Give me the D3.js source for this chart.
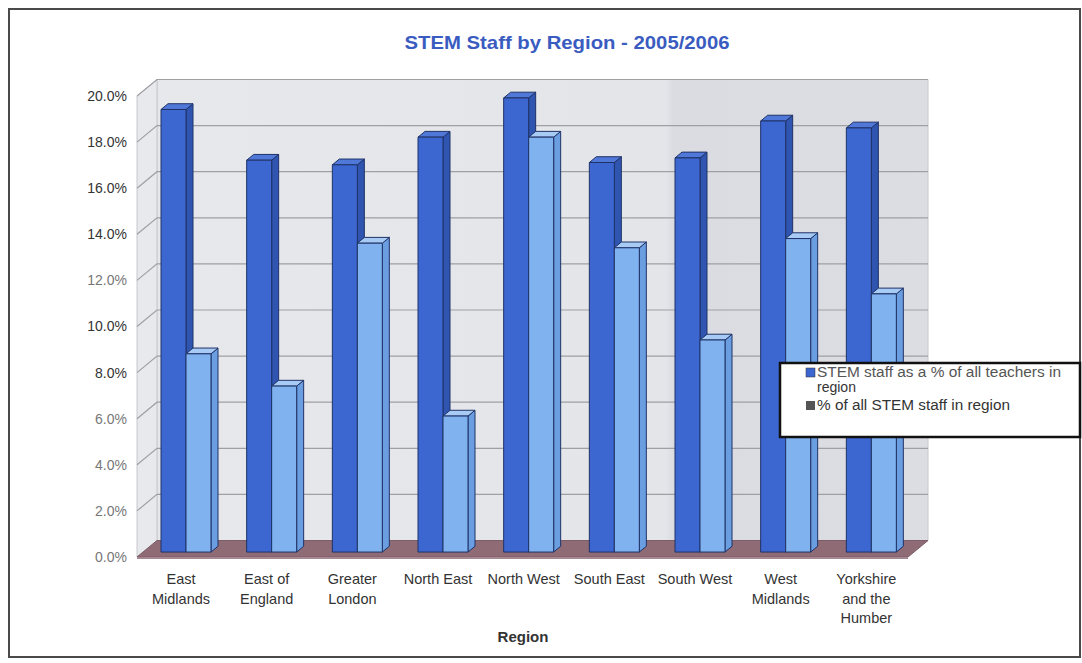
<!DOCTYPE html>
<html><head><meta charset="utf-8">
<script src="https://cdn.jsdelivr.net/npm/d3@7"></script>
<style>body{margin:0;background:#fff}svg{display:block}</style>
</head><body>
<svg id="c" width="1082" height="663"></svg>
<script>
const categories = ["East Midlands","East of England","Greater London","North East","North West","South East","South West","West Midlands","Yorkshire and the Humber"];
const labelLines = [["East","Midlands"],["East of","England"],["Greater","London"],["North East"],["North West"],["South East"],["South West"],["West","Midlands"],["Yorkshire","and the","Humber"]];
const seriesNames = ["STEM staff as a % of all teachers in region","% of all STEM staff in region"];
const pctOfTeachers = [19.2, 17.0, 16.8, 18.0, 19.7, 16.9, 17.1, 18.7, 18.4];
const pctOfStemStaff = [8.6, 7.2, 13.4, 5.9, 18.0, 13.2, 9.2, 13.6, 11.2];
const yTicks = [0,2,4,6,8,10,12,14,16,18,20];
const title = "STEM Staff by Region - 2005/2006";
const xTitle = "Region";

const svg = d3.select("#c");
const font = "Arial, 'Liberation Sans', sans-serif";

svg.append("rect").attr("x",9).attr("y",9).attr("width",1071).attr("height",648)
  .attr("fill","#fff").attr("stroke","#4a4a4a").attr("stroke-width",2);

svg.append("text").attr("x",567).attr("y",49).attr("text-anchor","middle")
  .attr("font-family",font).attr("font-weight","bold").attr("font-size",19)
  .attr("textLength",325).attr("lengthAdjust","spacingAndGlyphs")
  .attr("fill","#3a5cc0").text(title);

const y = d3.scaleLinear().domain([0,20]).range([557,96]);
const x = d3.scaleBand().domain(categories).range([137,908]).padding(0);
const xs = d3.scaleBand().domain(seriesNames).range([18,68]).padding(0);
const DX = 20, DY = 16.5;
const P = (px, v, z) => [px + DX*z, y(v) - DY*z];

const defs = svg.append("defs");
const g = defs.append("linearGradient").attr("id","wall").attr("x1","0").attr("x2","1");
g.append("stop").attr("offset","0").attr("stop-color","#e6e8ec");
g.append("stop").attr("offset","0.66").attr("stop-color","#e3e5e9");
g.append("stop").attr("offset","0.67").attr("stop-color","#dbdce1");
g.append("stop").attr("offset","1").attr("stop-color","#dcdde2");

const x0 = 137, x1 = 908;
const line = d3.line();
const bw = [P(x0,0,1),P(x1,0,1),P(x1,20,1),P(x0,20,1)];
svg.append("path").attr("d",line(bw)+"Z").attr("fill","url(#wall)").attr("stroke","#c8c8cc").attr("stroke-width",1);
const sw = [P(x0,0,0),P(x0,0,1),P(x0,20,1),P(x0,20,0)];
svg.append("path").attr("d",line(sw)+"Z").attr("fill","#e8e9ec").attr("stroke","#c8c8cc").attr("stroke-width",1);

yTicks.forEach(t=>{
  if(t===0) return;
  svg.append("path").attr("d",line([P(x0,t,0),P(x0,t,1),P(x1,t,1)]))
    .attr("fill","none").attr("stroke","#a0a0a4").attr("stroke-width",1.2);
});

const fl = [P(x0,0,0),P(x1,0,0),P(x1,0,1),P(x0,0,1)];
svg.append("path").attr("d",line(fl)+"Z").attr("fill","#8f6b76").attr("stroke","#7d5d68").attr("stroke-width",1);
svg.append("path").attr("d",line([P(x0,0,0),P(x1,0,0),[x1,y(0)+2],[x0,y(0)+2]])+"Z").attr("fill","#a58891");

const yAxis = d3.axisLeft(y).tickValues(yTicks).tickSize(0).tickPadding(0)
  .tickFormat(d=>d.toFixed(1)+"%");
const ya = svg.append("g").attr("transform","translate(127,0)").call(yAxis);
ya.select(".domain").remove();
ya.selectAll("text").attr("font-family",font).attr("font-size",14)
  .attr("fill",(d)=> d>=14||d===10||d===8?"#333":"#777");

const colors = [
  {front:"#3d67d0", side:"#2f55b0", top:"#5078d8"},
  {front:"#7fb2ef", side:"#6a9ee0", top:"#a7cbf5"}
];
const series = [pctOfTeachers, pctOfStemStaff];
const zf = 0.3, zb = 0.65;
categories.forEach((c,i)=>{
  seriesNames.forEach((s,k)=>{
    const v = series[k][i];
    const bx = x(c) + xs(s), w = xs.bandwidth();
    const col = colors[k];
    const gg = svg.append("g").attr("stroke","#1f3266").attr("stroke-width",1).attr("stroke-linejoin","round");
    gg.append("path").attr("d",line([P(bx+w,0,zf),P(bx+w,0,zb),P(bx+w,v,zb),P(bx+w,v,zf)])+"Z").attr("fill",col.side);
    gg.append("path").attr("d",line([P(bx,v,zf),P(bx+w,v,zf),P(bx+w,v,zb),P(bx,v,zb)])+"Z").attr("fill",col.top);
    gg.append("path").attr("d",line([P(bx,0,zf),P(bx+w,0,zf),P(bx+w,v,zf),P(bx,v,zf)])+"Z").attr("fill",col.front);
  });
});

categories.forEach((c,i)=>{
  const cx = x(c) + 44;
  const t = svg.append("text").attr("text-anchor","middle").attr("font-family",font)
    .attr("font-size",14.5).attr("fill","#333");
  labelLines[i].forEach((l,j)=>{
    t.append("tspan").attr("x",cx).attr("y",584+j*19.5).text(l);
  });
});
svg.append("text").attr("x",523).attr("y",642).attr("text-anchor","middle")
  .attr("font-family",font).attr("font-weight","bold").attr("font-size",15).attr("fill","#333").text(xTitle);

const lg = svg.append("g");
lg.append("rect").attr("x",780).attr("y",363).attr("width",300).attr("height",74)
  .attr("fill","#fff").attr("stroke","#111").attr("stroke-width",2.5);
const swatch = ["#3d67d0","#555"];
lg.append("rect").attr("x",806).attr("y",368).attr("width",9).attr("height",9).attr("fill",swatch[0]).attr("stroke","#333").attr("stroke-width",0.5);
lg.append("rect").attr("x",806).attr("y",401).attr("width",9).attr("height",9).attr("fill",swatch[1]);
const lt = lg.append("text").attr("font-family",font).attr("font-size",14).attr("fill","#555");
lt.append("tspan").attr("x",817).attr("y",377).attr("textLength",244).attr("lengthAdjust","spacingAndGlyphs").text("STEM staff as a % of all teachers in");
lt.append("tspan").attr("x",817).attr("y",392).attr("fill","#333").text("region");
lg.append("text").attr("font-family",font).attr("font-size",14).attr("fill","#333")
  .attr("x",817).attr("y",410).attr("textLength",193).attr("lengthAdjust","spacingAndGlyphs").text(seriesNames[1]);
</script>
</body></html>
